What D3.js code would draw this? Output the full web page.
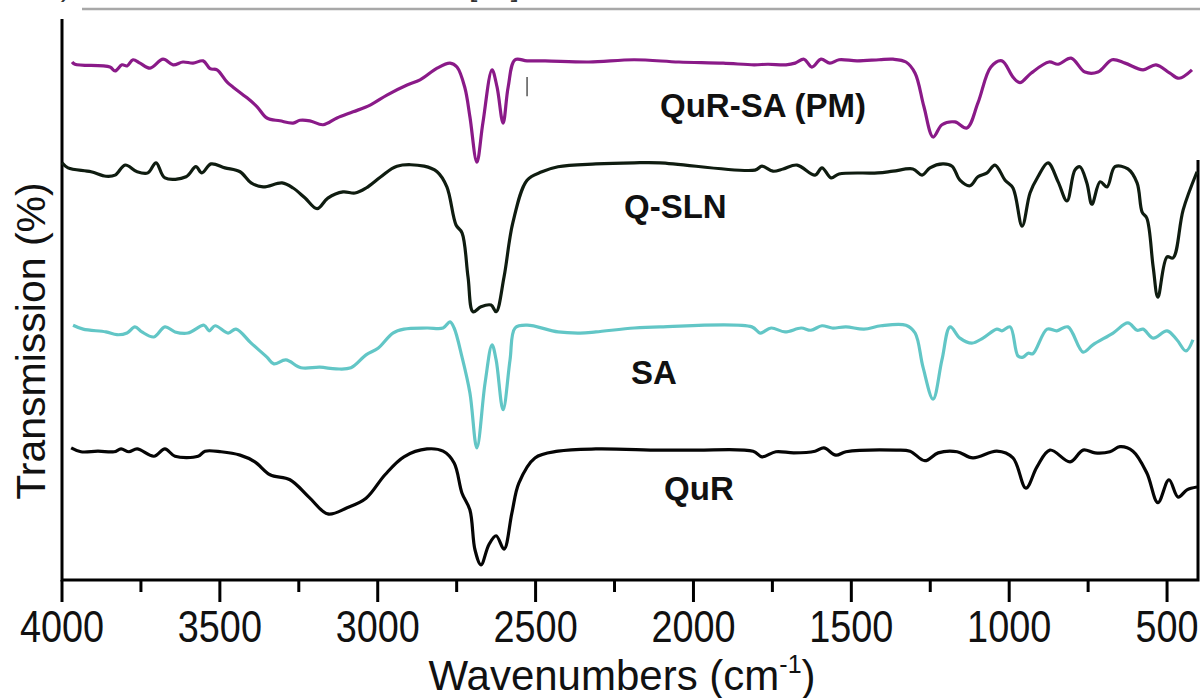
<!DOCTYPE html>
<html lang="en">
<head>
<meta charset="UTF-8">
<title>FTIR spectra</title>
<script src="https://d3js.org/d3.v7.min.js"></script>
<style>
    body { margin: 0; background: #fff; }
    svg { display: block; font-family: "Liberation Sans", Arial, sans-serif; }
    .spec { fill: none; stroke-width: 3.2px; stroke-linejoin: round; }
    .frame { stroke: #000; stroke-width: 3px; fill: none; }
    .tick-label { font-size: 44px; fill: #111; }
    .axis-title { font-size: 42px; fill: #111; }
    .curve-label { font-size: 33px; font-weight: bold; fill: #111; }
</style>
</head>
<body>
<svg id="chart" width="1200" height="698"></svg>
<script>
// wavenumber (cm-1), transmission (arb. %)
const quRSA = [
    [3968, 92.5], [3959, 92.1], [3848, 91.6], [3832, 90.9], [3810, 92.0], [3794, 91.8],
    [3775, 92.9], [3753, 92.3], [3721, 91.4], [3680, 93.0], [3648, 92.0], [3617, 92.5],
    [3585, 92.3], [3553, 92.7], [3531, 91.3], [3509, 91.1], [3477, 88.9], [3458, 88.0],
    [3414, 86.1], [3382, 84.5], [3351, 82.5], [3310, 82.0], [3268, 81.6], [3246, 82.1],
    [3215, 82.0], [3173, 81.3], [3129, 82.5], [3078, 83.6], [3024, 84.8], [2971, 86.6],
    [2907, 88.4], [2866, 89.3], [2812, 91.4], [2771, 92.3], [2749, 91.6], [2724, 87.9],
    [2708, 82.7], [2686, 74.6], [2667, 81.6], [2638, 91.1], [2622, 88.0], [2603, 81.6],
    [2587, 88.0], [2565, 92.9], [2527, 92.7], [2470, 92.7], [2331, 92.5], [2188, 92.9],
    [2046, 92.5], [1906, 92.3], [1808, 92.0], [1764, 92.1], [1707, 92.0], [1678, 92.3],
    [1650, 93.0], [1625, 91.6], [1596, 93.0], [1568, 92.3], [1539, 92.9], [1482, 92.7],
    [1412, 92.9], [1368, 93.0], [1327, 92.5], [1298, 90.5], [1270, 84.5], [1241, 79.1],
    [1213, 81.3], [1172, 81.8], [1134, 80.7], [1099, 85.2], [1058, 91.6], [1023, 92.7],
    [988, 89.8], [966, 88.8], [931, 90.5], [874, 92.5], [845, 92.1], [804, 93.2],
    [760, 90.7], [719, 90.7], [674, 92.9], [633, 92.3], [576, 91.1], [535, 92.0],
    [491, 90.5], [462, 89.6], [421, 91.1]
];

const qSLN = [
    [4000, 74.5], [3981, 73.6], [3908, 72.9], [3861, 72.1], [3832, 72.3], [3800, 74.1],
    [3762, 72.9], [3728, 72.7], [3702, 74.5], [3674, 71.8], [3607, 72.0], [3576, 73.8],
    [3557, 72.7], [3528, 74.3], [3484, 73.6], [3436, 72.9], [3401, 70.9], [3363, 70.2],
    [3303, 70.9], [3268, 70.0], [3230, 68.2], [3192, 66.3], [3158, 68.2], [3110, 69.3],
    [3072, 69.1], [3037, 70.0], [2990, 72.0], [2939, 73.9], [2853, 73.9], [2812, 72.9],
    [2781, 70.2], [2752, 63.4], [2733, 62.0], [2714, 54.1], [2698, 47.9], [2673, 48.8],
    [2641, 49.1], [2625, 47.9], [2600, 54.1], [2572, 63.8], [2527, 71.4], [2480, 72.9],
    [2429, 73.8], [2309, 74.3], [2188, 74.5], [2106, 74.5], [1805, 73.2], [1783, 73.9],
    [1748, 73.0], [1716, 73.4], [1672, 74.1], [1615, 72.3], [1593, 73.6], [1564, 71.8],
    [1539, 72.5], [1416, 72.7], [1368, 73.0], [1305, 73.4], [1276, 72.3], [1251, 73.6],
    [1210, 74.3], [1181, 73.9], [1156, 71.4], [1124, 70.4], [1099, 72.0], [1070, 72.7],
    [1045, 74.1], [1013, 71.4], [988, 70.0], [959, 63.2], [934, 69.1], [909, 72.0],
    [877, 74.5], [845, 71.1], [817, 67.7], [792, 73.2], [776, 73.8], [754, 70.9],
    [738, 67.1], [712, 71.1], [690, 70.2], [665, 73.8], [624, 73.4], [595, 70.9],
    [579, 65.7], [564, 64.6], [544, 55.9], [529, 50.5], [500, 57.7], [481, 57.5],
    [449, 66.1], [405, 72.9]
];

const sa = [
    [3965, 45.5], [3933, 44.8], [3861, 44.3], [3826, 43.8], [3794, 44.1], [3769, 45.2],
    [3747, 44.3], [3709, 43.4], [3674, 45.2], [3642, 44.3], [3601, 44.1], [3550, 45.5],
    [3534, 44.5], [3515, 45.4], [3474, 44.1], [3449, 44.8], [3401, 42.3], [3351, 39.8],
    [3329, 38.6], [3291, 39.3], [3243, 37.9], [3183, 38.0], [3132, 37.7], [3085, 37.9],
    [3037, 40.2], [2999, 41.4], [2952, 44.1], [2917, 44.8], [2844, 45.0], [2793, 45.0],
    [2771, 46.1], [2758, 45.0], [2733, 39.8], [2708, 33.4], [2686, 23.6], [2660, 35.2],
    [2638, 42.0], [2625, 39.3], [2603, 30.4], [2581, 39.3], [2565, 45.0], [2527, 45.5],
    [2429, 44.3], [2359, 44.1], [2309, 44.3], [2188, 45.0], [2106, 45.2], [1815, 45.2],
    [1789, 44.1], [1754, 45.0], [1710, 44.3], [1659, 45.0], [1628, 44.6], [1593, 45.4],
    [1561, 45.0], [1517, 45.2], [1460, 44.8], [1406, 45.4], [1327, 45.5], [1298, 44.1],
    [1273, 38.0], [1241, 32.3], [1213, 39.3], [1187, 45.2], [1156, 43.2], [1118, 42.3],
    [1083, 43.2], [1039, 44.8], [1023, 44.5], [997, 45.2], [972, 40.0], [956, 39.8],
    [940, 40.5], [925, 40.4], [880, 44.8], [849, 44.5], [814, 45.2], [766, 40.7],
    [735, 42.0], [671, 44.1], [624, 45.9], [595, 44.6], [576, 44.8], [544, 43.2],
    [500, 44.5], [469, 42.9], [440, 40.9], [418, 42.9]
];

const quR = [
    [3971, 23.6], [3940, 22.9], [3886, 23.0], [3835, 22.9], [3813, 23.4], [3788, 22.9],
    [3762, 23.4], [3709, 22.1], [3674, 23.4], [3642, 22.1], [3569, 22.1], [3547, 23.0],
    [3496, 22.9], [3436, 22.3], [3389, 21.1], [3341, 18.8], [3278, 17.9], [3218, 14.8],
    [3158, 11.8], [3097, 12.9], [3037, 14.6], [2977, 18.8], [2917, 22.0], [2844, 23.4],
    [2793, 23.0], [2758, 20.9], [2733, 15.5], [2708, 12.5], [2692, 5.4], [2673, 2.7],
    [2648, 6.3], [2625, 7.9], [2600, 5.5], [2575, 12.0], [2553, 17.3], [2502, 21.8],
    [2429, 23.0], [2309, 23.4], [2106, 23.2], [1992, 23.2], [1811, 23.0], [1783, 22.0],
    [1739, 22.9], [1682, 22.7], [1615, 23.0], [1587, 23.6], [1549, 22.3], [1517, 22.9],
    [1358, 23.2], [1314, 23.0], [1267, 21.3], [1225, 22.7], [1165, 22.9], [1115, 21.8],
    [1039, 23.0], [988, 21.8], [947, 16.4], [912, 20.2], [871, 23.2], [807, 21.1],
    [766, 23.2], [728, 22.7], [681, 22.9], [649, 23.8], [608, 23.0], [564, 19.1],
    [529, 13.8], [494, 17.9], [465, 14.8], [437, 16.1], [405, 16.6]
];

const seriesNames = ["QuR-SA (PM)", "Q-SLN", "SA", "QuR"];
const seriesData = [quRSA, qSLN, sa, quR];
const seriesColors = ["#8a1a88", "#0f1c10", "#62c6c6", "#050505"];
// label anchor: [wavenumber, transmission]
const labelAnchors = [[2106, 82.6], [2220, 64.6], [2198, 35.0], [2093, 14.3]];

const majorTicks = [4000, 3500, 3000, 2500, 2000, 1500, 1000, 500];
const minorTicks = [3750, 3250, 2750, 2250, 1750, 1250, 750];

const svg = d3.select("#chart");

const x = d3.scaleLinear().domain([4000, 402]).range([62, 1198]);
const y = d3.scaleLinear().domain([0, 100]).range([580, 20]);

// cropped caption remnants at the very top
svg.append("line")
    .attr("x1", 82).attr("x2", 1200).attr("y1", 9).attr("y2", 9)
    .attr("stroke", "#a8a8a8").attr("stroke-width", 2.5);
svg.append("text").attr("x", 44).attr("y", -4)
    .style("font-size", "30px").attr("fill", "#333").text("b)");
svg.append("text").attr("x", 469).attr("y", -4)
    .style("font-size", "30px").attr("fill", "#333").text("[32]");

// frame: left, bottom, right
svg.append("path")
    .attr("class", "frame")
    .attr("d", `M62,19 V580 H1198 V160`);

// x ticks
svg.selectAll(".major").data(majorTicks).enter().append("line")
    .attr("x1", d => x(d)).attr("x2", d => x(d))
    .attr("y1", 580).attr("y2", 602)
    .attr("stroke", "#000").attr("stroke-width", 3);
svg.selectAll(".minor").data(minorTicks).enter().append("line")
    .attr("x1", d => x(d)).attr("x2", d => x(d))
    .attr("y1", 580).attr("y2", 592)
    .attr("stroke", "#000").attr("stroke-width", 3);
svg.selectAll(".tick-label").data(majorTicks).enter().append("text")
    .attr("class", "tick-label")
    .attr("transform", d => `translate(${x(d)},642) scale(0.86,1)`)
    .attr("text-anchor", "middle")
    .text(d => d);

// axis titles
const xt = svg.append("text")
    .attr("class", "axis-title")
    .attr("x", 622).attr("y", 690)
    .attr("text-anchor", "middle");
xt.append("tspan").text("Wavenumbers (cm");
xt.append("tspan").attr("dy", -17).style("font-size", "25px").text("-1");
xt.append("tspan").attr("dy", 17).text(")");

svg.append("text")
    .attr("class", "axis-title")
    .attr("transform", "translate(45,341) rotate(-90)")
    .attr("text-anchor", "middle")
    .style("font-size", "41px")
    .text("Transmission (%)");

// spectra
const line = d3.line()
    .x(d => x(d[0]))
    .y(d => y(d[1]))
    .curve(d3.curveCatmullRom.alpha(0.5));

svg.selectAll(".spec").data(seriesData).enter().append("path")
    .attr("class", "spec")
    .attr("stroke", (d, i) => seriesColors[i])
    .attr("d", line);

// small stray mark next to the purple trace
svg.append("line")
    .attr("x1", x(2527)).attr("x2", x(2527))
    .attr("y1", y(89.8)).attr("y2", y(86.4))
    .attr("stroke", "#555").attr("stroke-width", 1.5);

svg.selectAll(".curve-label").data(seriesNames).enter().append("text")
    .attr("class", "curve-label")
    .attr("x", (d, i) => x(labelAnchors[i][0]))
    .attr("y", (d, i) => y(labelAnchors[i][1]))
    .text(d => d);
</script>
</body>
</html>
